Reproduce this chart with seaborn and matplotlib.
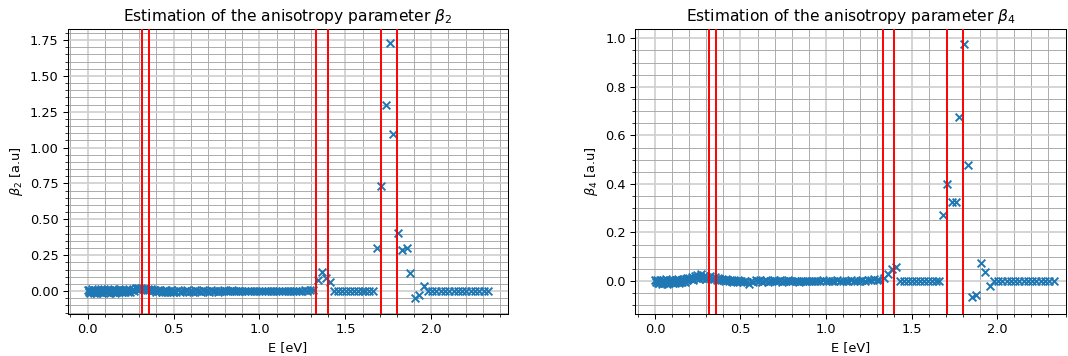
import matplotlib
matplotlib.use("Agg")
import matplotlib.pyplot as plt
import numpy as np
import pandas as pd
import seaborn as sns

# Photoelectron energy grid [eV]
E_seg_a = [0.000, 0.005, 0.010, 0.015, 0.020, 0.025, 0.030, 0.035, 0.040, 0.045,
           0.050, 0.055, 0.060, 0.065, 0.070, 0.075, 0.080, 0.085, 0.090, 0.095,
           0.100, 0.105, 0.110, 0.115, 0.120, 0.125, 0.130, 0.135, 0.140, 0.145,
           0.150, 0.155, 0.160, 0.165, 0.170, 0.175, 0.180, 0.185, 0.190, 0.195,
           0.200]
E_seg_b = [0.208, 0.216, 0.224, 0.232, 0.240, 0.248, 0.256, 0.264, 0.272, 0.280,
           0.288, 0.296, 0.304, 0.312, 0.320, 0.328, 0.336, 0.344, 0.352, 0.360,
           0.368, 0.376, 0.384, 0.392, 0.400, 0.408, 0.416, 0.424, 0.432, 0.440,
           0.448, 0.456, 0.464, 0.472, 0.480, 0.488, 0.496, 0.504]
E_seg_c = [0.516, 0.528, 0.540, 0.552, 0.564, 0.576, 0.588, 0.600, 0.612, 0.624,
           0.636, 0.648, 0.660, 0.672, 0.684, 0.696, 0.708, 0.720, 0.732, 0.744,
           0.756, 0.768, 0.780, 0.792, 0.804, 0.816, 0.828, 0.840, 0.852, 0.864,
           0.876, 0.888, 0.900]
E_seg_d = [0.916, 0.933, 0.949, 0.966, 0.982, 0.999, 1.015, 1.032, 1.048, 1.065,
           1.081, 1.098, 1.114, 1.131, 1.147, 1.164, 1.180, 1.197, 1.213, 1.230,
           1.246, 1.263, 1.279, 1.296, 1.312]
E_seg_hi = [1.341, 1.364, 1.387, 1.410, 1.433, 1.456, 1.479, 1.502, 1.525, 1.548,
            1.571, 1.594, 1.617, 1.640, 1.663, 1.686, 1.710, 1.734, 1.758, 1.780,
            1.805, 1.830, 1.856, 1.879, 1.906, 1.928, 1.956, 1.980, 2.005, 2.030,
            2.055, 2.080, 2.105, 2.130, 2.155, 2.180, 2.205, 2.230, 2.255, 2.280,
            2.305, 2.330]

# beta_2 estimates [a.u]
b2_seg_a = [0.004, -0.006, 0.009, -0.011, 0.002, 0.012, -0.008, -0.013, 0.006, 0.010,
            -0.004, -0.012, 0.008, 0.001, -0.009, 0.011, -0.002, -0.014, 0.005, 0.013,
            -0.007, 0.003, -0.010, 0.009, -0.005, 0.007, -0.012, 0.002, 0.010, -0.008,
            -0.003, 0.012, -0.011, 0.006, -0.006, 0.004, 0.011, -0.009, 0.001, 0.008,
            -0.004]
b2_seg_b = [0.006, -0.007, 0.010, -0.004, 0.013, -0.009, 0.008, 0.015, -0.003, 0.018,
            0.011, 0.020, 0.014, 0.022, 0.017, 0.012, 0.021, 0.009, 0.016, 0.006,
            0.013, -0.002, 0.010, 0.004, -0.006, 0.008, -0.003, 0.005, -0.008, 0.003,
            -0.005, 0.006, -0.009, 0.002, -0.004, 0.007, -0.006, 0.001]
b2_seg_c = [-0.005, 0.004, -0.008, 0.002, -0.003, 0.006, -0.007, 0.001, -0.004, 0.005,
            -0.002, 0.003, -0.006, 0.004, -0.001, 0.002, -0.005, 0.006, -0.003, 0.001,
            -0.004, 0.003, -0.002, 0.005, -0.001, 0.002, -0.003, 0.004, 0.000, -0.002,
            0.003, -0.001, 0.002]
b2_seg_d = [0.002, -0.003, 0.001, 0.003, -0.002, 0.000, 0.002, -0.001, 0.003, -0.002,
            0.001, 0.002, -0.003, 0.001, 0.000, 0.002, -0.001, 0.003, 0.001, -0.002,
            0.002, 0.004, 0.003, 0.006, 0.010]
b2_seg_hi = [0.076, 0.130, 0.088, 0.065, 0.0, 0.0, 0.0, 0.0, 0.0, 0.0,
             0.0, 0.0, 0.0, 0.0, 0.0, 0.297, 0.731, 1.299, 1.730, 1.092,
             0.405, 0.285, 0.297, 0.123, -0.048, -0.025, 0.037, 0.0, 0.0, 0.0,
             0.0, 0.0, 0.0, 0.0, 0.0, 0.0, 0.0, 0.0, 0.0, 0.0,
             0.0, 0.0]

# beta_4 estimates [a.u]
b4_seg_a = [0.003, -0.005, 0.006, -0.008, 0.002, -0.010, 0.004, -0.006, -0.012, 0.001,
            0.005, -0.009, -0.003, 0.007, -0.011, -0.004, 0.002, -0.008, 0.004, -0.006,
            0.006, -0.010, -0.002, 0.003, -0.007, 0.005, -0.004, 0.008, -0.009, 0.001,
            -0.005, 0.006, -0.003, 0.009, 0.002, -0.006, 0.010, 0.004, 0.012, 0.007,
            0.014]
b4_seg_b = [0.010, 0.018, 0.006, 0.022, 0.013, 0.026, 0.009, 0.019, 0.028, 0.012,
            0.021, 0.008, 0.016, 0.011, 0.019, 0.007, 0.014, 0.010, 0.017, 0.005,
            0.012, 0.008, 0.003, 0.010, 0.006, 0.001, 0.008, 0.004, -0.002, 0.006,
            0.002, -0.004, 0.005, 0.001, -0.003, 0.004, -0.001, 0.002]
b4_seg_c = [-0.003, 0.002, -0.006, -0.012, 0.001, -0.004, 0.003, -0.002, 0.004, -0.005,
            0.001, 0.003, -0.003, 0.002, -0.001, 0.004, -0.002, 0.001, 0.003, -0.004,
            0.002, -0.001, 0.003, 0.000, -0.002, 0.002, 0.001, -0.003, 0.002, 0.000,
            0.001, -0.002, 0.002]
b4_seg_d = [0.001, -0.002, 0.002, 0.000, 0.003, -0.001, 0.002, 0.001, -0.002, 0.003,
            0.000, 0.002, -0.001, 0.001, 0.003, 0.000, 0.002, -0.001, 0.004, 0.002,
            0.006, 0.003, 0.008, 0.005, 0.004]
b4_seg_hi = [0.012, 0.030, 0.050, 0.056, 0.0, 0.0, 0.0, 0.0, 0.0, 0.0,
             0.0, 0.0, 0.0, 0.0, 0.0, 0.271, 0.401, 0.325, 0.325, 0.676,
             0.975, 0.476, -0.064, -0.057, 0.073, 0.038, -0.020, 0.0, 0.0, 0.0,
             0.0, 0.0, 0.0, 0.0, 0.0, 0.0, 0.0, 0.0, 0.0, 0.0,
             0.0, 0.0]

# Resonance boundaries [eV]
band_edges = [0.318, 0.356, 1.332, 1.397, 1.706, 1.803]

titles = ["Estimation of the anisotropy parameter $\\beta_2$",
          "Estimation of the anisotropy parameter $\\beta_4$"]
ylabels = ["$\\beta_2$ [a.u]", "$\\beta_4$ [a.u]"]
xlabel = "E [eV]"

E = E_seg_a + E_seg_b + E_seg_c + E_seg_d + E_seg_hi
b2 = b2_seg_a + b2_seg_b + b2_seg_c + b2_seg_d + b2_seg_hi
b4 = b4_seg_a + b4_seg_b + b4_seg_c + b4_seg_d + b4_seg_hi
assert len(E) == len(b2) == len(b4)

df = pd.DataFrame({"E": E, "b2": b2, "b4": b4})

DPI = 93
fig = plt.figure(figsize=(1068 / DPI, 356 / DPI), dpi=DPI)
ax1 = fig.add_axes([0.0634, 0.1180, 0.4120, 0.8010])
ax2 = fig.add_axes([0.5945, 0.1180, 0.4040, 0.8010])

panels = [
    (ax1, "b2", (-0.116, 2.445), (-0.160, 1.828)),
    (ax2, "b4", (-0.117, 2.405), (-0.136, 1.039)),
]

for (ax, col, xlim, ylim), title, ylab in zip(panels, titles, ylabels):
    ax.minorticks_on()
    ax.grid(which="major", color="#cfcfcf", linewidth=1.3, zorder=0)
    ax.grid(which="minor", color="#a6a6a6", linewidth=0.7, zorder=0)
    ax.set_axisbelow(True)
    sns.scatterplot(data=df, x="E", y=col, marker="x", s=36, linewidth=1.5,
                    color="#1f77b4", ax=ax, zorder=2)
    for e in band_edges:
        ax.axvline(e, color="red", linewidth=1.5, zorder=3)
    ax.set_xlim(*xlim)
    ax.set_ylim(*ylim)
    ax.set_title(title, fontsize=12)
    ax.set_xlabel(xlabel, fontsize=10)
    ax.set_ylabel(ylab, fontsize=10)
    ax.tick_params(which="major", labelsize=10)

fig.savefig("out.png", dpi=DPI)
